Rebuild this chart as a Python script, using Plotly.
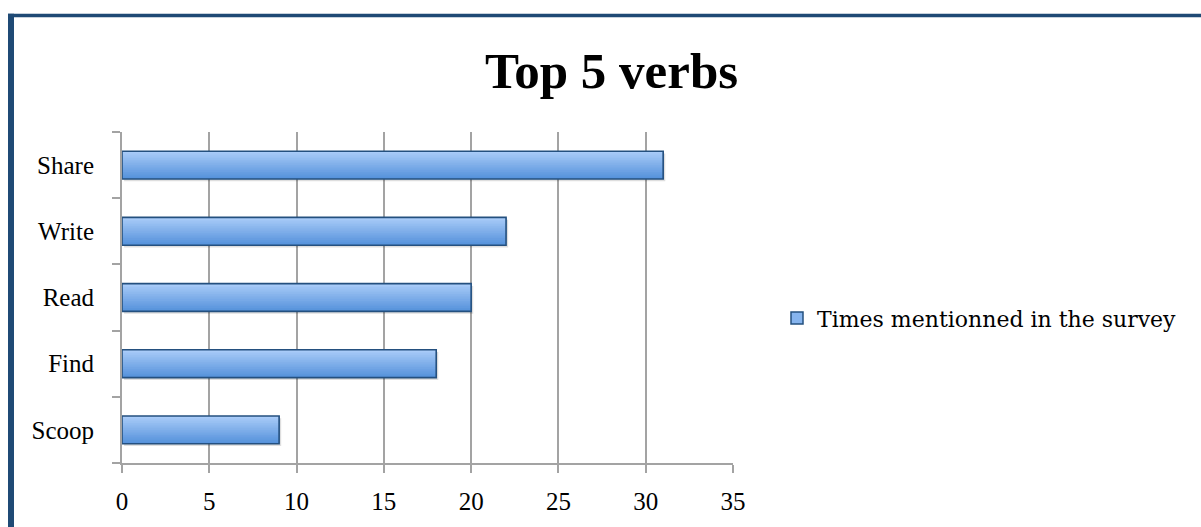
import plotly.graph_objects as go

categories = ["Share", "Write", "Read", "Find", "Scoop"]
values = [31, 22, 20, 18, 9]
series_name = "Times mentionned in the survey"
x_ticks = [0, 5, 10, 15, 20, 25, 30, 35]

W, H = 1201, 527
L, R, T, B = 122, 468, 132, 59
pw, ph = W - L - R, H - T - B

def px(x):
    return (x - L) / pw

def py(y):
    return (H - B - y) / ph

cats = categories[::-1]
vals = values[::-1]
BW = 0.42
N = 16
light = (168, 203, 248)
dark = (86, 146, 219)

fig = go.Figure()
# soft drop shadow
fig.add_trace(go.Bar(y=cats, x=vals, base=[0.12] * len(vals), orientation="h", width=BW,
                     offset=-BW / 2 - 0.035, marker=dict(color="rgba(0,0,0,0.13)", line=dict(width=0)),
                     showlegend=False, hoverinfo="skip"))
# gradient: strip i covers from its start up to the top edge; later strips (lighter) sit higher
for i in range(N):
    t = i / (N - 1)
    c = tuple(round(dark[k] + (light[k] - dark[k]) * t) for k in range(3))
    fig.add_trace(go.Bar(y=cats, x=vals, orientation="h", width=BW - i * BW / N,
                         offset=-BW / 2 + i * BW / N,
                         marker=dict(color="rgb(%d,%d,%d)" % c, line=dict(width=0)),
                         showlegend=False, hoverinfo="skip"))
# outline
fig.add_trace(go.Bar(y=cats, x=vals, orientation="h", width=BW, offset=-BW / 2,
                     marker=dict(color="rgba(0,0,0,0)", line=dict(color="#24507f", width=1.6)),
                     showlegend=False, name=series_name))
# legend entry
fig.add_trace(go.Bar(y=[None], x=[None], orientation="h", name=series_name,
                     marker=dict(color="#86b4ee", line=dict(color="#24507f", width=1.5)),
                     showlegend=True))

serif = "Liberation Serif"
grid = "#a3a3a3"
fig.update_layout(
    width=W, height=H,
    barmode="overlay",
    margin=dict(l=L, r=R, t=T, b=B),
    paper_bgcolor="white", plot_bgcolor="white",
    title=dict(text="<b>Top 5 verbs</b>", x=611.5 / W, xanchor="center", y=1 - 70 / H, yanchor="middle",
               font=dict(family=serif, size=51, color="black")),
    font=dict(family=serif, size=25, color="black"),
    showlegend=True,
    legend=dict(x=px(777), y=py(321), xanchor="left", yanchor="middle",
                font=dict(family="DejaVu Serif", size=22, color="black"), bgcolor="rgba(0,0,0,0)"),
    xaxis=dict(range=[0, 35], tickvals=x_ticks, showgrid=True, gridcolor=grid, gridwidth=2,
               showline=True, linecolor=grid, linewidth=2, ticks="outside", ticklen=8,
               tickcolor=grid, tickwidth=2, zeroline=False, ticklabelstandoff=7,
               tickfont=dict(family=serif, size=25)),
    yaxis=dict(showgrid=False, showline=True, linecolor=grid, linewidth=2, ticks="outside",
               tickson="boundaries", ticklen=8, tickcolor=grid, tickwidth=2,
               ticklabelstandoff=21, range=[-0.5, 4.5], tickfont=dict(family=serif, size=25)),
    shapes=[
        dict(type="rect", xref="paper", yref="paper", x0=px(8), x1=px(14), y0=py(540), y1=py(12),
             fillcolor="#1f4a75", line=dict(width=0), layer="above"),
        dict(type="rect", xref="paper", yref="paper", x0=px(8), x1=px(1210), y0=py(15.5), y1=py(12),
             fillcolor="#1f4a75", line=dict(width=0), layer="above"),
    ],
)

fig.write_html("out.html")
